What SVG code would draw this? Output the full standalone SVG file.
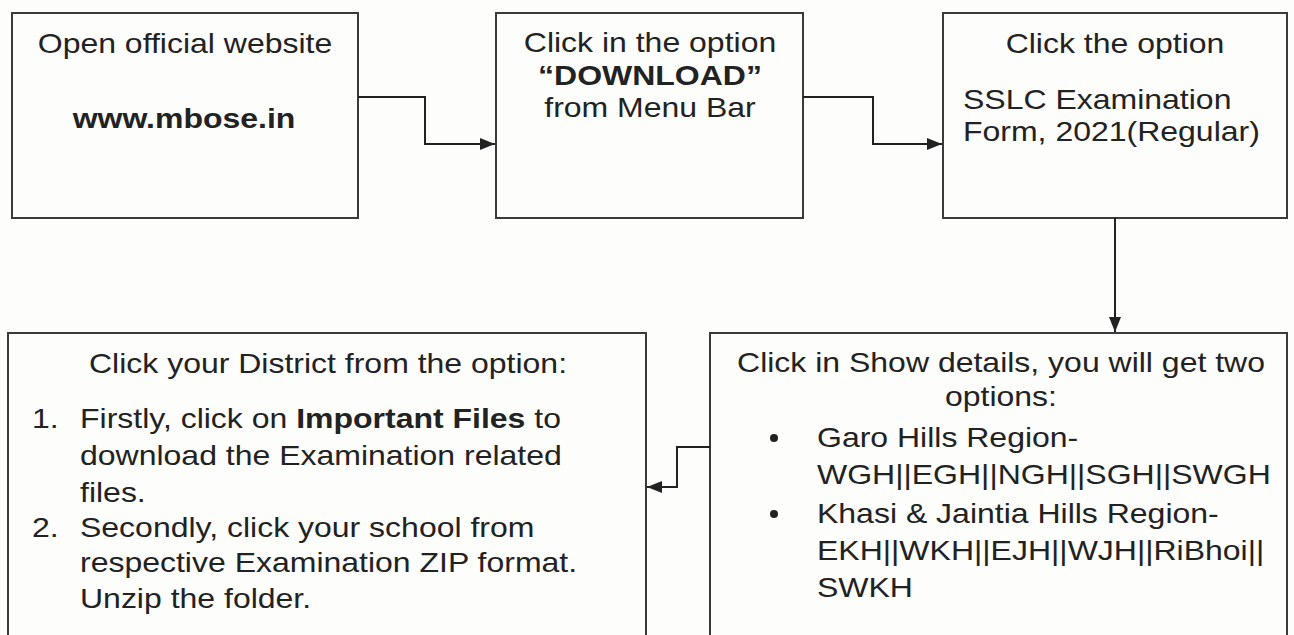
<svg xmlns="http://www.w3.org/2000/svg" width="1294" height="635" viewBox="0 0 1294 635">
  <defs>
    <marker id="arrow" viewBox="0 0 15 12" refX="15" refY="6" markerWidth="15" markerHeight="12" orient="auto" markerUnits="userSpaceOnUse">
      <path d="M0,0 L15,6 L0,12 Z" fill="#222"/>
    </marker>
    <style>
      .box { fill: #fdfdfb; stroke: #3a3a3a; stroke-width: 2; }
      .t { font-family: "Liberation Sans", Arial, sans-serif; font-size: 28px; fill: #222; }
      .c { text-anchor: middle; }
      .b { font-weight: bold; }
      .conn { fill: none; stroke: #222; stroke-width: 2; marker-end: url(#arrow); }
    </style>
  </defs>
  <rect width="1294" height="635" fill="#fdfdfb"/>

  <!-- text is set slightly wide: each line is placed by translate() then stretched with scale(1.143,1) -->
  <g id="step-open-website">
    <rect class="box" x="12" y="13" width="346" height="205"/>
    <text class="t c" transform="translate(185,53) scale(1.143,1)">Open official website</text>
    <text class="t c b" transform="translate(184,128) scale(1.143,1)">www.mbose.in</text>
  </g>

  <g id="step-download">
    <rect class="box" x="496" y="13" width="307" height="205"/>
    <text class="t c" transform="translate(650,52) scale(1.143,1)">Click in the option</text>
    <text class="t c b" transform="translate(650,85) scale(1.143,1)">“DOWNLOAD”</text>
    <text class="t c" transform="translate(650,117) scale(1.143,1)">from Menu Bar</text>
  </g>

  <g id="step-sslc-form">
    <rect class="box" x="943" y="13" width="344" height="205"/>
    <text class="t c" transform="translate(1115,53) scale(1.143,1)">Click the option</text>
    <text class="t" transform="translate(963,109) scale(1.143,1)">SSLC Examination</text>
    <text class="t" transform="translate(963,141) scale(1.143,1)">Form, 2021(Regular)</text>
  </g>

  <g id="step-show-details">
    <rect class="box" x="710" y="333" width="577" height="310"/>
    <text class="t c" transform="translate(1001,372) scale(1.143,1)">Click in Show details, you will get two</text>
    <text class="t c" transform="translate(1001,406) scale(1.143,1)">options:</text>
    <circle cx="774" cy="438" r="4" fill="#222"/>
    <text class="t" transform="translate(817,447) scale(1.143,1)">Garo Hills Region-</text>
    <text class="t" transform="translate(817,484) scale(1.143,1)">WGH||EGH||NGH||SGH||SWGH</text>
    <circle cx="774" cy="514" r="4" fill="#222"/>
    <text class="t" transform="translate(817,523) scale(1.143,1)">Khasi &amp; Jaintia Hills Region-</text>
    <text class="t" transform="translate(817,560) scale(1.143,1)">EKH||WKH||EJH||WJH||RiBhoi||</text>
    <text class="t" transform="translate(817,597) scale(1.143,1)">SWKH</text>
  </g>

  <g id="step-district">
    <rect class="box" x="8" y="333" width="638" height="310"/>
    <text class="t c" transform="translate(328,373) scale(1.143,1)">Click your District from the option:</text>
    <text class="t" transform="translate(32,428) scale(1.143,1)">1.</text>
    <text class="t" transform="translate(80,428) scale(1.143,1)">Firstly, click on <tspan class="b">Important Files</tspan> to</text>
    <text class="t" transform="translate(80,465) scale(1.143,1)">download the Examination related</text>
    <text class="t" transform="translate(80,502) scale(1.143,1)">files.</text>
    <text class="t" transform="translate(32,537) scale(1.143,1)">2.</text>
    <text class="t" transform="translate(80,537) scale(1.143,1)">Secondly, click your school from</text>
    <text class="t" transform="translate(80,572) scale(1.143,1)">respective Examination ZIP format.</text>
    <text class="t" transform="translate(80,608) scale(1.143,1)">Unzip the folder.</text>
  </g>

  <g id="connectors">
    <path class="conn" d="M358,97 H425 V144 H495"/>
    <path class="conn" d="M803,97 H873 V144 H942"/>
    <path class="conn" d="M1115,218 V332"/>
    <path class="conn" d="M710,447 H677 V487 H647"/>
  </g>
</svg>
